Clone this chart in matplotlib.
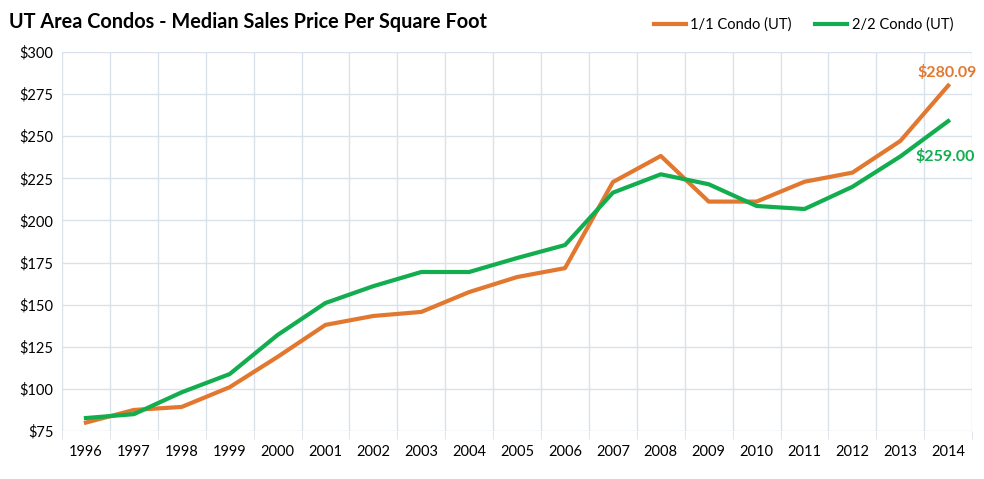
import matplotlib.pyplot as plt
import numpy as np

plt.rcParams['font.family'] = ['Lato', 'DejaVu Sans']

years = list(range(1996, 2015))
condo_11 = [80, 87.5, 89.3, 101, 119, 138, 143.3, 145.7, 157.5, 166.4, 171.7,
            222.8, 238.3, 211.2, 211.2, 223.0, 228.4, 247.2, 280.09]
condo_22 = [82.7, 85, 98, 108.8, 132, 151, 161, 169.4, 169.4, 177.7, 185.4,
            216.5, 227.4, 221.5, 208.6, 206.8, 220.0, 238.0, 259.00]

orange = '#E2782F'
green = '#12AD4F'
grid_c = '#D9E1EA'

fig = plt.figure(figsize=(9.84, 4.79), dpi=100)
ax = fig.add_axes([0.063, 0.1002, 0.925, 0.7912])

x = np.arange(len(years))
ax.plot(x, condo_11, color=orange, lw=3, label='1/1 Condo (UT)', zorder=3)
ax.plot(x, condo_22, color=green, lw=3, label='2/2 Condo (UT)', zorder=3)

ax.set_xlim(-0.5, len(years) - 0.5)
ax.set_ylim(75, 300)
ax.set_yticks(np.arange(75, 301, 25))
ax.set_yticklabels(['$%d' % v for v in range(75, 301, 25)])
ax.set_xticks(x)
ax.set_xticklabels([str(y) for y in years])
ax.set_xticks(np.arange(-0.5, len(years)), minor=True)

ax.grid(True, axis='y', color=grid_c, lw=1)
ax.grid(True, axis='x', which='minor', color=grid_c, lw=1)
for s in ax.spines.values():
    s.set_visible(False)
ax.tick_params(axis='x', which='major', length=0, pad=10, labelsize=10.5)
ax.tick_params(axis='x', which='minor', length=6, color=grid_c)
ax.tick_params(axis='y', length=0, pad=6, labelsize=10.5)

ax.annotate('$280.09', (x[-1], condo_11[-1]), xytext=(-1, 4), textcoords='offset points',
            ha='center', va='bottom', color=orange, fontsize=11.5, fontweight='bold')
ax.annotate('$259.00', (x[-1], condo_22[-1]), xytext=(-2, -20), textcoords='offset points',
            ha='center', va='top', color=green, fontsize=11.5, fontweight='bold')

fig.text(0.009, 0.955, 'UT Area Condos - Median Sales Price Per Square Foot',
         fontsize=14.3, fontweight='bold', va='center', ha='left')
fig.legend(loc='center right', bbox_to_anchor=(0.982, 0.948), ncol=2, frameon=False,
           fontsize=10.5, handlelength=2.2, columnspacing=1.6, handletextpad=0.3)

fig.savefig('out.png', dpi=100)
